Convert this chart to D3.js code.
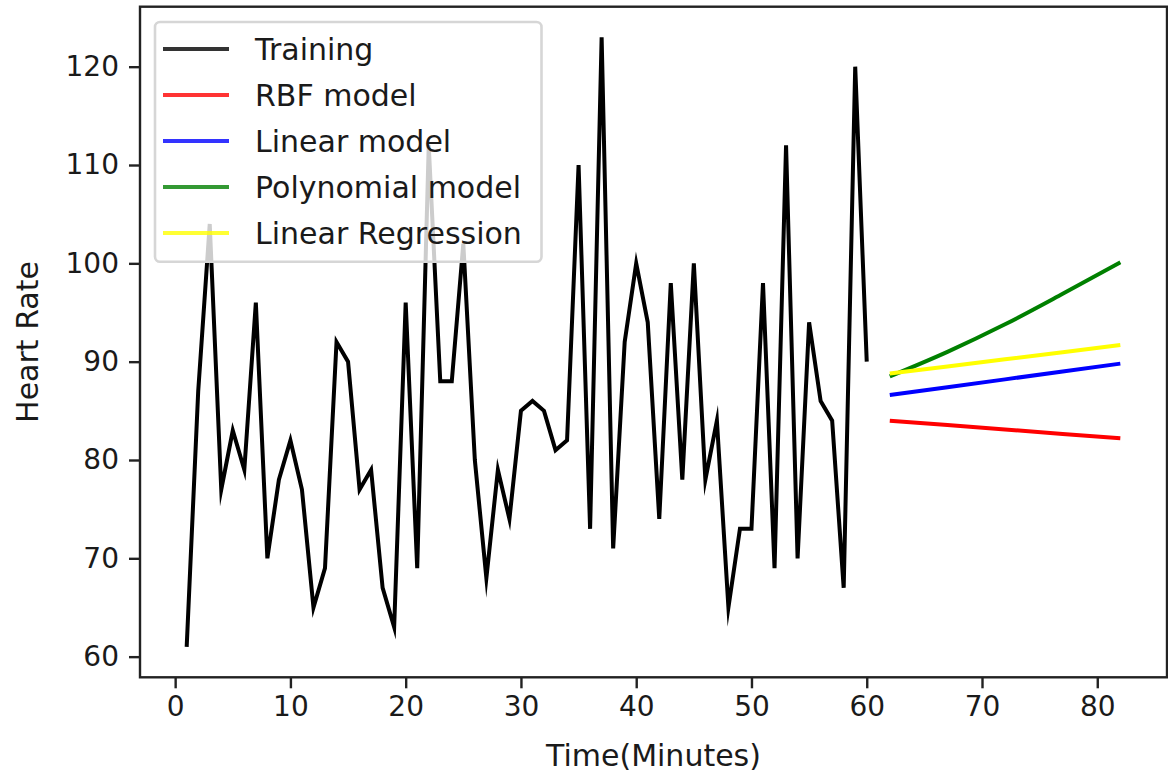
<!DOCTYPE html>
<html>
<head>
<meta charset="utf-8">
<script src="https://cdn.jsdelivr.net/npm/d3@7/dist/d3.min.js"></script>
<style>
  html, body { margin: 0; padding: 0; background: #fff; }
  svg { display: block; font-family: "DejaVu Sans", sans-serif; }
</style>
</head>
<body>
<svg id="chart" width="1168" height="778"></svg>
<script>
// ---- data ----
const trainingX = d3.range(1, 61);
const trainingY = [61, 87, 104, 77, 83, 79, 96, 70, 78, 82,
                   77, 65, 69, 92, 90, 77, 79, 67, 63, 96,
                   69, 112, 88, 88, 102, 80, 68, 79, 74, 85,
                   86, 85, 81, 82, 110, 73, 123, 71, 92, 100,
                   94, 74, 98, 78, 100, 78, 84, 65, 73, 73,
                   98, 69, 112, 70, 94, 86, 84, 67, 120, 90];
const forecastX = [62, 67, 72, 77, 82];
const rbfY = [84.0, 83.55, 83.1, 82.65, 82.2];
const linearY = [86.6, 87.4, 88.2, 89.0, 89.8];
const polyY = [88.5, 91.0, 93.8, 96.9, 100.1];
const linRegY = [88.8, 89.5, 90.25, 90.95, 91.7];
const xTicks = [0, 10, 20, 30, 40, 50, 60, 70, 80];
const yTicks = [60, 70, 80, 90, 100, 110, 120];
const legendLabels = ["Training", "RBF model", "Linear model", "Polynomial model", "Linear Regression"];
const seriesColors = ["#000000", "#ff0000", "#0000ff", "#008000", "#ffff00"];

(function () {
  const svg = d3.select("#chart");
  const pL = 140, pR = 1167, pT = 6.7, pB = 677.3;
  const x = d3.scaleLinear().domain([-3.05, 86.05]).range([pL, pR]);
  const y = d3.scaleLinear().domain([57.9, 126.1]).range([pB, pT]);
  const axisColor = "#222";

  const series = [
    { xs: trainingX, ys: trainingY, color: seriesColors[0] },
    { xs: forecastX, ys: rbfY, color: seriesColors[1] },
    { xs: forecastX, ys: linearY, color: seriesColors[2] },
    { xs: forecastX, ys: polyY, color: seriesColors[3], curve: d3.curveMonotoneX },
    { xs: forecastX, ys: linRegY, color: seriesColors[4] }
  ];

  const plot = svg.append("g");
  series.forEach(s => {
    const line = d3.line()
      .x((d, i) => x(s.xs[i]))
      .y(d => y(d))
      .curve(s.curve || d3.curveLinear);
    plot.append("path")
      .datum(s.ys)
      .attr("d", line)
      .attr("fill", "none")
      .attr("stroke", s.color)
      .attr("stroke-width", 4)
      .attr("stroke-linejoin", "miter")
      .attr("stroke-miterlimit", 10);
  });

  const xAxis = d3.axisBottom(x).tickValues(xTicks).tickSize(11).tickPadding(8).tickFormat(d3.format("d"));
  const gx = svg.append("g").attr("transform", `translate(0,${pB})`).call(xAxis);
  gx.select(".domain").remove();
  gx.selectAll(".tick line").attr("stroke", axisColor).attr("stroke-width", 2.4);
  gx.selectAll(".tick text").attr("fill", "#1a1a1a").attr("font-size", 28)
    .attr("font-family", "DejaVu Sans, sans-serif");

  const yAxis = d3.axisLeft(y).tickValues(yTicks).tickSize(11).tickPadding(10).tickFormat(d3.format("d"));
  const gy = svg.append("g").attr("transform", `translate(${pL},0)`).call(yAxis);
  gy.select(".domain").remove();
  gy.selectAll(".tick line").attr("stroke", axisColor).attr("stroke-width", 2.4);
  gy.selectAll(".tick text").attr("fill", "#1a1a1a").attr("font-size", 28)
    .attr("font-family", "DejaVu Sans, sans-serif");

  svg.append("rect")
    .attr("x", pL).attr("y", pT)
    .attr("width", pR - pL).attr("height", pB - pT)
    .attr("fill", "none").attr("stroke", axisColor).attr("stroke-width", 2.4);

  svg.append("text")
    .attr("x", (pL + pR) / 2).attr("y", 766)
    .attr("text-anchor", "middle").attr("font-size", 30).attr("fill", "#1a1a1a")
    .text("Time(Minutes)");
  svg.append("text")
    .attr("transform", `translate(38,${(pT + pB) / 2}) rotate(-90)`)
    .attr("text-anchor", "middle").attr("font-size", 30).attr("fill", "#1a1a1a")
    .text("Heart Rate");

  const lg = svg.append("g");
  lg.append("rect")
    .attr("x", 155).attr("y", 22).attr("width", 386.5).attr("height", 239.7)
    .attr("rx", 5).attr("ry", 5)
    .attr("fill", "#fff").attr("fill-opacity", 0.8)
    .attr("stroke", "#d6d6d6").attr("stroke-width", 2.6);
  legendLabels.forEach((lab, i) => {
    const cy = 49 + i * 46;
    lg.append("line")
      .attr("x1", 163).attr("x2", 229).attr("y1", cy).attr("y2", cy)
      .attr("stroke", seriesColors[i]).attr("stroke-width", 4).attr("stroke-opacity", 0.8);
    lg.append("text")
      .attr("x", 255).attr("y", cy + 11)
      .attr("font-size", 30).attr("fill", "#1a1a1a")
      .text(lab);
  });
})();
</script>
</body>
</html>
